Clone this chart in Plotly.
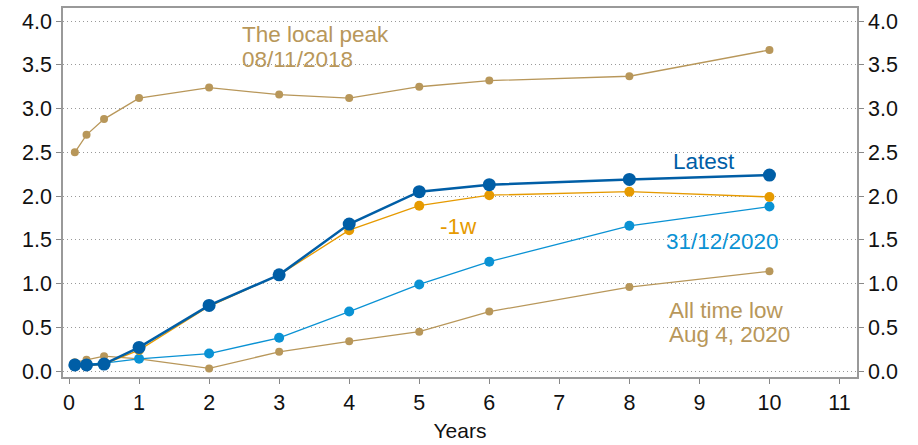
import plotly.graph_objects as go

years = [0.083, 0.25, 0.5, 1, 2, 3, 4, 5, 6, 8, 10]
local_peak = [2.50, 2.70, 2.88, 3.12, 3.24, 3.16, 3.12, 3.25, 3.32, 3.37, 3.67]
all_time_low = [0.10, 0.13, 0.17, 0.14, 0.03, 0.22, 0.34, 0.45, 0.68, 0.96, 1.14]
end_2020 = [0.08, 0.08, 0.09, 0.14, 0.20, 0.38, 0.68, 0.99, 1.25, 1.66, 1.88]
week_ago = [0.06, 0.06, 0.08, 0.24, 0.74, 1.10, 1.61, 1.89, 2.01, 2.05, 1.99]
latest = [0.07, 0.07, 0.08, 0.27, 0.75, 1.10, 1.68, 2.05, 2.13, 2.19, 2.24]

TAN = "#B8975A"
LBLUE = "#0A92D4"
ORANGE = "#E69A00"
DBLUE = "#005EA6"
FONT = "Liberation Sans, Arial, sans-serif"
FS_TICK = 21.5
FS_ANN = 22.5

fig = go.Figure()
fig.add_trace(go.Scatter(x=years, y=local_peak, mode="lines+markers",
                         line=dict(color=TAN, width=1.3), marker=dict(size=8, color=TAN)))
fig.add_trace(go.Scatter(x=years, y=all_time_low, mode="lines+markers",
                         line=dict(color=TAN, width=1.3), marker=dict(size=8, color=TAN)))
fig.add_trace(go.Scatter(x=years, y=end_2020, mode="lines+markers",
                         line=dict(color=LBLUE, width=1.3), marker=dict(size=10, color=LBLUE)))
fig.add_trace(go.Scatter(x=years, y=week_ago, mode="lines+markers",
                         line=dict(color=ORANGE, width=1.3), marker=dict(size=10, color=ORANGE)))
fig.add_trace(go.Scatter(x=years, y=latest, mode="lines+markers",
                         line=dict(color=DBLUE, width=2.5), marker=dict(size=13, color=DBLUE)))
# invisible trace for right axis
fig.add_trace(go.Scatter(x=years, y=latest, yaxis="y2", mode="lines",
                         line=dict(width=0), opacity=0, hoverinfo="skip"))

annots = [
    (2.44, 3.85, "The local peak", TAN, "left"),
    (2.44, 3.56, "08/11/2018", TAN, "left"),
    (9.06, 2.39, "Latest", DBLUE, "center"),
    (5.56, 1.65, "-1w", ORANGE, "center"),
    (9.33, 1.48, "31/12/2020", LBLUE, "center"),
    (8.54, 0.69, "All time low", TAN, "left"),
    (8.54, 0.42, "Aug 4, 2020", TAN, "left"),
]
for x, y, t, c, xa in annots:
    fig.add_annotation(x=x, y=y, text=t, showarrow=False, xanchor=xa, yanchor="middle",
                       font=dict(color=c, size=FS_ANN, family=FONT))

axis_common = dict(
    range=[-0.068, 4.15], tickvals=[0, 0.5, 1, 1.5, 2, 2.5, 3, 3.5, 4], tickformat=".1f",
    ticks="outside", ticklen=5, tickcolor="#888", showline=True, linecolor="#999",
    linewidth=1.5, tickfont=dict(size=FS_TICK, color="#111", family=FONT), zeroline=False,
)
fig.update_layout(
    width=918, height=445,
    margin=dict(l=63, r=61, t=6, b=67),
    plot_bgcolor="white", paper_bgcolor="white",
    showlegend=False,
    font=dict(family=FONT),
    xaxis=dict(range=[-0.086, 11.25], tickvals=list(range(12)), ticks="outside", ticklen=5,
               tickcolor="#888", showline=True, linecolor="#999", linewidth=1.5, mirror=True,
               showgrid=False, zeroline=False,
               tickfont=dict(size=FS_TICK, color="#111", family=FONT),
               title=dict(text="Years", font=dict(size=21, color="#111", family=FONT), standoff=10)),
    yaxis=dict(**axis_common, showgrid=True, gridcolor="#999", griddash="1px,3px", gridwidth=1.3),
    yaxis2=dict(**axis_common, overlaying="y", side="right", showgrid=False, matches="y"),
)
fig.write_html("out.html", config={"displayModeBar": False},
               post_script="document.body.style.margin='0';")
